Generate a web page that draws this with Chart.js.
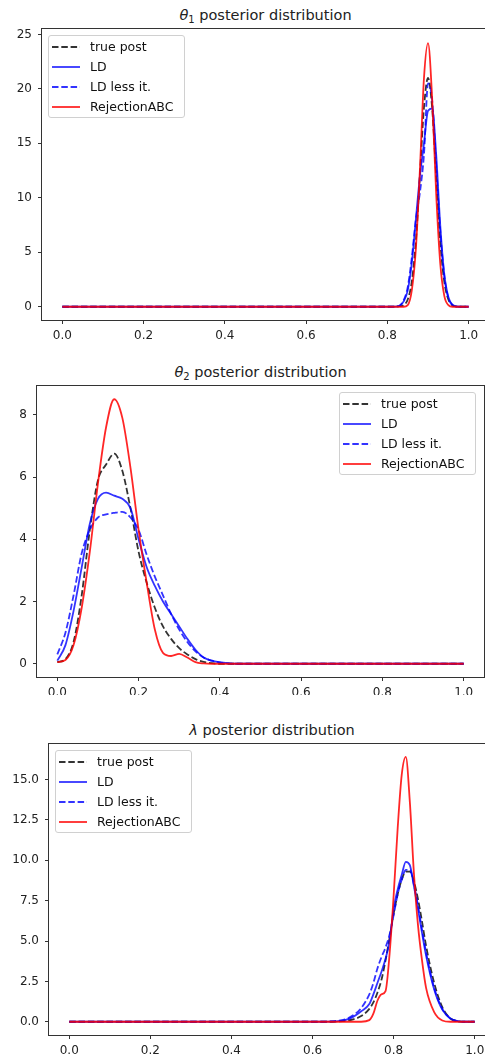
<!DOCTYPE html>
<html>
<head>
<meta charset="utf-8">
<script src="https://cdn.jsdelivr.net/npm/chart.js@4.4.1/dist/chart.umd.min.js"></script>
<style>
  body { margin: 0; width: 485px; height: 1064px; overflow: hidden; background: #fff; position: relative; font-family: 'DejaVu Sans', sans-serif; }
  canvas { position: absolute; left: 0; }
  .title { position: absolute; text-align: center; font-size: 14.5px; height: 20px; line-height: 20px; color: #222; }
  .title sub { font-size: 10px; vertical-align: -3px; line-height: 0; }
  .legend { position: absolute; width: 137px; height: 83px; background: rgba(255,255,255,0.8); border: 1px solid #d0d0d0; border-radius: 3px; box-sizing: border-box; }
  .legend .row { position: absolute; left: 0; height: 20px; line-height: 20px; font-size: 12.5px; color: #111; white-space: nowrap; }
  .legend svg { position: absolute; left: 3px; top: 8px; }
  .legend span { position: absolute; left: 41px; }
</style>
</head>
<body>
<div class="title" style="left:42px; width:447px; top:5px;"><i>θ</i><sub>1</sub> posterior distribution</div>
<div class="title" style="left:37px; width:447px; top:362px;"><i>θ</i><sub>2</sub> posterior distribution</div>
<div class="title" style="left:49px; width:446px; top:720px;"><i>λ</i> posterior distribution</div>

<canvas id="c1" width="490" height="345" style="top:0px"></canvas>
<canvas id="c2" width="485" height="345" style="top:350px"></canvas>
<canvas id="c3" width="496" height="349" style="top:715px"></canvas>

<div class="legend" id="leg1" style="left:48px; top:35px;"></div>
<div class="legend" id="leg2" style="left:339px; top:392px;"></div>
<div class="legend" id="leg3" style="left:55px; top:750px;"></div>

<script>
// nombres de las series y ejes comunes
const seriesNames = ['true post', 'LD', 'LD less it.', 'RejectionABC'];
const xTicks = [0, 0.2, 0.4, 0.6, 0.8, 1.0];

// theta1
const t1X     = [0, 0.80, 0.82, 0.83, 0.84, 0.85, 0.86, 0.87, 0.88, 0.89, 0.90, 0.91, 0.92, 0.93, 0.94, 0.95, 0.96, 0.97, 0.98, 1.0];
const t1True  = [0, 0, 0.02, 0.05, 0.15, 0.66, 2.3, 6.0, 12.1, 18.3, 21.0, 18.3, 12.1, 6.0, 2.3, 0.66, 0.14, 0.02, 0, 0];
const t1LD    = [0, 0, 0.02, 0.1, 0.5, 1.5, 4.0, 8.0, 12.0, 15.0, 18.0, 18.2, 14.0, 7.5, 3.0, 0.9, 0.2, 0.03, 0, 0];
const t1LDless= [0, 0, 0.02, 0.1, 0.6, 1.8, 4.5, 8.0, 10.5, 14.0, 20.5, 19.0, 13.0, 7.0, 2.8, 0.8, 0.15, 0.02, 0, 0];
const t1ABC   = [0, 0, 0, 0, 0, 0.15, 1.5, 5.3, 12.6, 21.0, 24.2, 19.2, 10.4, 4.0, 1.0, 0.15, 0, 0, 0, 0];
const t1YTicks = [0, 5, 10, 15, 20, 25];

// theta2
const t2X     = [0, 0.02, 0.04, 0.06, 0.08, 0.10, 0.12, 0.14, 0.16, 0.18, 0.20, 0.22, 0.24, 0.26, 0.28, 0.30, 0.32, 0.34, 0.36, 0.38, 0.40, 0.42, 0.44, 1.0];
const t2True  = [0.05, 0.15, 0.7, 2.2, 4.3, 5.9, 6.4, 6.75, 6.2, 5.0, 3.6, 2.6, 1.8, 1.2, 0.8, 0.5, 0.3, 0.15, 0.06, 0.02, 0, 0, 0, 0];
const t2LD    = [0.1, 0.6, 1.7, 3.1, 4.5, 5.3, 5.5, 5.4, 5.3, 5.0, 4.0, 3.1, 2.5, 2.0, 1.6, 1.2, 0.8, 0.45, 0.2, 0.1, 0.05, 0.02, 0, 0];
const t2LDless= [0.3, 1.0, 2.2, 3.55, 4.3, 4.7, 4.8, 4.85, 4.88, 4.7, 4.3, 3.5, 2.8, 2.2, 1.6, 1.1, 0.7, 0.4, 0.2, 0.1, 0.04, 0.01, 0, 0];
const t2ABC   = [0.05, 0.12, 0.6, 1.8, 3.6, 5.8, 7.6, 8.5, 7.9, 6.3, 4.3, 2.6, 1.1, 0.35, 0.25, 0.32, 0.2, 0.05, 0.01, 0, 0, 0, 0, 0];
const t2YTicks = [0, 2, 4, 6, 8];

// lambda
const lamX     = [0, 0.62, 0.64, 0.66, 0.68, 0.70, 0.72, 0.74, 0.75, 0.76, 0.77, 0.78, 0.79, 0.80, 0.81, 0.82, 0.83, 0.84, 0.85, 0.86, 0.87, 0.88, 0.90, 0.92, 0.94, 0.96, 0.98, 1.0];
const lamTrue  = [0, 0, 0, 0.02, 0.05, 0.15, 0.35, 0.8, 1.2, 1.8, 2.6, 3.8, 5.2, 6.7, 7.9, 8.8, 9.3, 9.3, 8.7, 7.6, 6.2, 4.7, 2.4, 0.9, 0.2, 0.03, 0, 0];
const lamLD    = [0, 0, 0.01, 0.03, 0.1, 0.3, 0.65, 1.1, 1.7, 2.4, 3.1, 3.9, 5.0, 7.0, 8.2, 9.1, 9.9, 9.7, 8.4, 7.0, 5.5, 4.1, 2.0, 0.75, 0.2, 0.03, 0, 0];
const lamLDless= [0, 0, 0.02, 0.06, 0.15, 0.4, 0.85, 1.7, 2.4, 3.3, 4.0, 4.6, 5.4, 6.6, 7.9, 8.8, 9.4, 9.4, 8.5, 7.2, 5.7, 4.3, 2.1, 0.8, 0.2, 0.03, 0, 0];
const lamABC   = [0, 0, 0, 0, 0, 0, 0, 0.1, 0.5, 1.3, 1.7, 1.9, 4.2, 7.8, 12.0, 15.3, 16.4, 13.6, 9.2, 6.0, 3.8, 2.1, 0.6, 0.08, 0, 0, 0, 0];
const lamYTicks = [0, 2.5, 5.0, 7.5, 10.0, 12.5, 15.0];

// estilos de las lineas
const lineColors = ['rgba(0,0,0,0.8)', 'rgba(0,0,255,0.8)', 'rgba(0,0,255,0.8)', 'rgba(255,0,0,0.85)'];
const lineDash = [[6.5, 2.8], [], [6.5, 2.8], []];

Chart.defaults.font.family = "'DejaVu Sans', sans-serif";
Chart.defaults.font.size = 12;

// marco completo alrededor del area (spines de matplotlib)
const framePlugin = {
  id: 'frame',
  afterDatasetsDraw(chart) {
    const { ctx, chartArea: a } = chart;
    ctx.save();
    ctx.strokeStyle = '#333';
    ctx.lineWidth = 1;
    ctx.strokeRect(Math.round(a.left) - 0.5, Math.round(a.top) - 0.5, Math.round(a.right - a.left) + 1, Math.round(a.bottom - a.top) + 1);
    ctx.restore();
  }
};

function crearGrafica(id, box, xs, ys, yMin, yMax, yTicks, yDec) {
  const canvas = document.getElementById(id);
  const W = canvas.width, H = canvas.height;
  const datasets = ys.map((arr, i) => ({
    label: seriesNames[i],
    data: xs.map((x, j) => ({ x, y: arr[j] })),
    borderColor: lineColors[i],
    borderDash: lineDash[i],
    borderWidth: 1.8,
    pointRadius: 0,
    fill: false,
    cubicInterpolationMode: 'monotone',
    order: 4 - i
  }));
  return new Chart(canvas.getContext('2d'), {
    type: 'line',
    data: { datasets },
    options: {
      responsive: false,
      animation: false,
      layout: { padding: { top: box.top, left: 0, right: W - box.right, bottom: 0 } },
      plugins: { legend: { display: false }, tooltip: { enabled: false }, title: { display: false } },
      scales: {
        x: {
          type: 'linear', min: -0.05, max: 1.05,
          afterBuildTicks: s => { s.ticks = xTicks.map(v => ({ value: v })); },
          afterFit: s => { s.height = H - box.bottom; },
          ticks: { callback: v => Number(v).toFixed(1), color: '#222', padding: 5, maxRotation: 0, autoSkip: false, font: { size: 12 } },
          grid: { drawOnChartArea: false, drawTicks: true, tickLength: 4, color: '#333' },
          border: { display: false }
        },
        y: {
          type: 'linear', min: yMin, max: yMax,
          afterBuildTicks: s => { s.ticks = yTicks.map(v => ({ value: v })); },
          afterFit: s => { s.width = box.left; },
          ticks: { callback: v => Number(v).toFixed(yDec), color: '#222', padding: 6, autoSkip: false, font: { size: 12 } },
          grid: { drawOnChartArea: false, drawTicks: true, tickLength: 4, color: '#333' },
          border: { display: false }
        }
      }
    },
    plugins: [framePlugin]
  });
}

function crearLeyenda(id) {
  const el = document.getElementById(id);
  el.innerHTML = seriesNames.map((name, i) => {
    const dash = lineDash[i].length ? `stroke-dasharray="${lineDash[i].join(' ')}"` : '';
    return `<div class="row" style="top:${1 + 20 * i}px; width:100%;">` +
      `<svg width="28" height="4"><line x1="0" y1="2" x2="28" y2="2" stroke="${lineColors[i]}" stroke-width="1.8" ${dash}/></svg>` +
      `<span>${name}</span></div>`;
  }).join('');
}

crearGrafica('c1', { left: 42, top: 29, right: 489, bottom: 320 }, t1X, [t1True, t1LD, t1LDless, t1ABC], -1.215, 25.5, t1YTicks, 0);
crearGrafica('c2', { left: 37, top: 36, right: 484, bottom: 327 }, t2X, [t2True, t2LD, t2LDless, t2ABC], -0.425, 8.925, t2YTicks, 0);
crearGrafica('c3', { left: 49, top: 29, right: 495, bottom: 320 }, lamX, [lamTrue, lamLD, lamLDless, lamABC], -0.82, 17.2, lamYTicks, 1);

crearLeyenda('leg1');
crearLeyenda('leg2');
crearLeyenda('leg3');
</script>
</body>
</html>
